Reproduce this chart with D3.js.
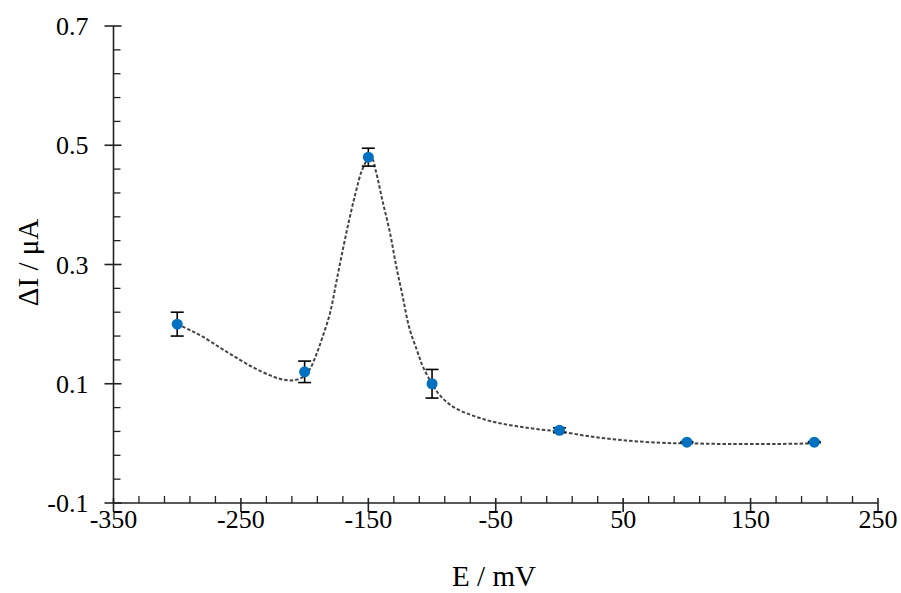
<!DOCTYPE html>
<html>
<head>
<meta charset="utf-8">
<script src="https://cdn.jsdelivr.net/npm/d3@7"></script>
<style>
  html, body { margin: 0; padding: 0; background: #fff; }
  svg { display: block; }
  text { font-family: "Liberation Serif", "Times New Roman", serif; fill: #000; }
</style>
</head>
<body>
<svg id="chart" width="901" height="593"></svg>
<script>
// Measured points: potential (mV), current change (µA) and error
const potentials = [-300, -200, -150, -100, 0, 100, 200];
const deltaI = [0.200, 0.120, 0.480, 0.100, 0.022, 0.002, 0.002];
const errors = [0.020, 0.018, 0.015, 0.024, 0.004, 0.001, 0.001];

// Fitted guide curve (dashed)
const fitE = [-300, -290, -280, -266, -253, -240, -227, -217, -208, -201, -196, -191, -186, -180, -175, -170, -165, -160, -155, -150, -147, -144, -139, -133, -128, -123, -118, -112, -107, -100, -94, -84, -70, -57, -45, -31, -18, 0, 26, 52, 79, 100, 131, 170, 200];
const fitI = [0.200, 0.190, 0.179, 0.160, 0.143, 0.127, 0.114, 0.107, 0.106, 0.112, 0.124, 0.148, 0.178, 0.219, 0.272, 0.325, 0.375, 0.420, 0.458, 0.477, 0.477, 0.456, 0.408, 0.353, 0.296, 0.246, 0.195, 0.157, 0.128, 0.100, 0.081, 0.062, 0.048, 0.039, 0.033, 0.028, 0.024, 0.020, 0.011, 0.005, 0.001, 0.000, -0.001, -0.001, 0.000];

// Axis ticks
const xMajor = [-350, -250, -150, -50, 50, 150, 250];
const yMajor = [-0.1, 0.1, 0.3, 0.5, 0.7];
const xTitle = "E / mV";
const yTitle = "ΔI / μA";

const svg = d3.select("#chart");
const plotLeft = 113.5, plotRight = 878, plotTop = 26, plotBottom = 503;

const x = d3.scaleLinear().domain([-350, 250]).range([plotLeft, plotRight]);
const y = d3.scaleLinear().domain([-0.1, 0.7]).range([plotBottom, plotTop]);

const xMinor = d3.range(-350, 250.1, 20).filter(v => !xMajor.includes(v));
const yMinor = d3.range(-0.1, 0.7001, 0.04).map(v => +v.toFixed(2)).filter(v => !yMajor.some(m => Math.abs(m - v) < 1e-6));

// plain hyphen-minus for negative tick labels
const fmtX = v => String(v);
const fmtY = v => v.toFixed(1);

const axisStroke = "#222";

// X axis
const gx = svg.append("g");
gx.append("line").attr("x1", plotLeft).attr("x2", plotRight).attr("y1", plotBottom).attr("y2", plotBottom)
  .attr("stroke", axisStroke).attr("stroke-width", 1.6);
gx.selectAll("line.maj").data(xMajor).join("line").attr("class", "maj")
  .attr("x1", d => x(d)).attr("x2", d => x(d)).attr("y1", plotBottom - 5).attr("y2", plotBottom + 9)
  .attr("stroke", axisStroke).attr("stroke-width", 1.6);
gx.selectAll("line.min").data(xMinor).join("line").attr("class", "min")
  .attr("x1", d => x(d)).attr("x2", d => x(d)).attr("y1", plotBottom - 7).attr("y2", plotBottom)
  .attr("stroke", axisStroke).attr("stroke-width", 1.3);
gx.selectAll("text").data(xMajor).join("text")
  .attr("x", d => x(d)).attr("y", plotBottom + 25)
  .attr("text-anchor", "middle").attr("font-size", 26)
  .text(fmtX);

// Y axis
const gy = svg.append("g");
gy.append("line").attr("x1", plotLeft).attr("x2", plotLeft).attr("y1", plotTop).attr("y2", plotBottom)
  .attr("stroke", axisStroke).attr("stroke-width", 1.6);
gy.selectAll("line.maj").data(yMajor).join("line").attr("class", "maj")
  .attr("x1", plotLeft - 9).attr("x2", plotLeft + 8).attr("y1", d => y(d)).attr("y2", d => y(d))
  .attr("stroke", axisStroke).attr("stroke-width", 1.6);
gy.selectAll("line.min").data(yMinor).join("line").attr("class", "min")
  .attr("x1", plotLeft).attr("x2", plotLeft + 7).attr("y1", d => y(d)).attr("y2", d => y(d))
  .attr("stroke", axisStroke).attr("stroke-width", 1.3);
gy.selectAll("text").data(yMajor).join("text")
  .attr("x", plotLeft - 25).attr("y", d => y(d) + 9)
  .attr("text-anchor", "end").attr("font-size", 26)
  .text(fmtY);

// Axis titles
svg.append("text").attr("x", 494).attr("y", 586)
  .attr("text-anchor", "middle").attr("font-size", 29).text(xTitle);
svg.append("text").attr("transform", `translate(38, ${(plotTop + plotBottom) / 2 - 2}) rotate(-90)`)
  .attr("text-anchor", "middle").attr("font-size", 29).text(yTitle);

// Fitted dashed curve
const fitData = fitE.map((e, i) => [e, fitI[i]]);
svg.append("path").datum(fitData)
  .attr("fill", "none").attr("stroke", "#444").attr("stroke-width", 2)
  .attr("stroke-dasharray", "3.5,2")
  .attr("d", d3.line().x(d => x(d[0])).y(d => y(d[1])).curve(d3.curveCatmullRom.alpha(0.5)));

// Error bars
const pts = potentials.map((e, i) => ({ e, v: deltaI[i], err: errors[i] }));
const eb = svg.append("g").attr("stroke", "#000").attr("stroke-width", 1.6);
eb.selectAll("line.v").data(pts).join("line").attr("class", "v")
  .attr("x1", d => x(d.e)).attr("x2", d => x(d.e))
  .attr("y1", d => y(d.v - d.err)).attr("y2", d => y(d.v + d.err));
eb.selectAll("line.t").data(pts).join("line").attr("class", "t")
  .attr("x1", d => x(d.e) - 6.5).attr("x2", d => x(d.e) + 6.5)
  .attr("y1", d => y(d.v + d.err)).attr("y2", d => y(d.v + d.err));
eb.selectAll("line.b").data(pts).join("line").attr("class", "b")
  .attr("x1", d => x(d.e) - 6.5).attr("x2", d => x(d.e) + 6.5)
  .attr("y1", d => y(d.v - d.err)).attr("y2", d => y(d.v - d.err));

// Markers
svg.append("g").selectAll("circle").data(pts).join("circle")
  .attr("cx", d => x(d.e)).attr("cy", d => y(d.v)).attr("r", 5.5)
  .attr("fill", "#0070C0");
</script>
</body>
</html>
